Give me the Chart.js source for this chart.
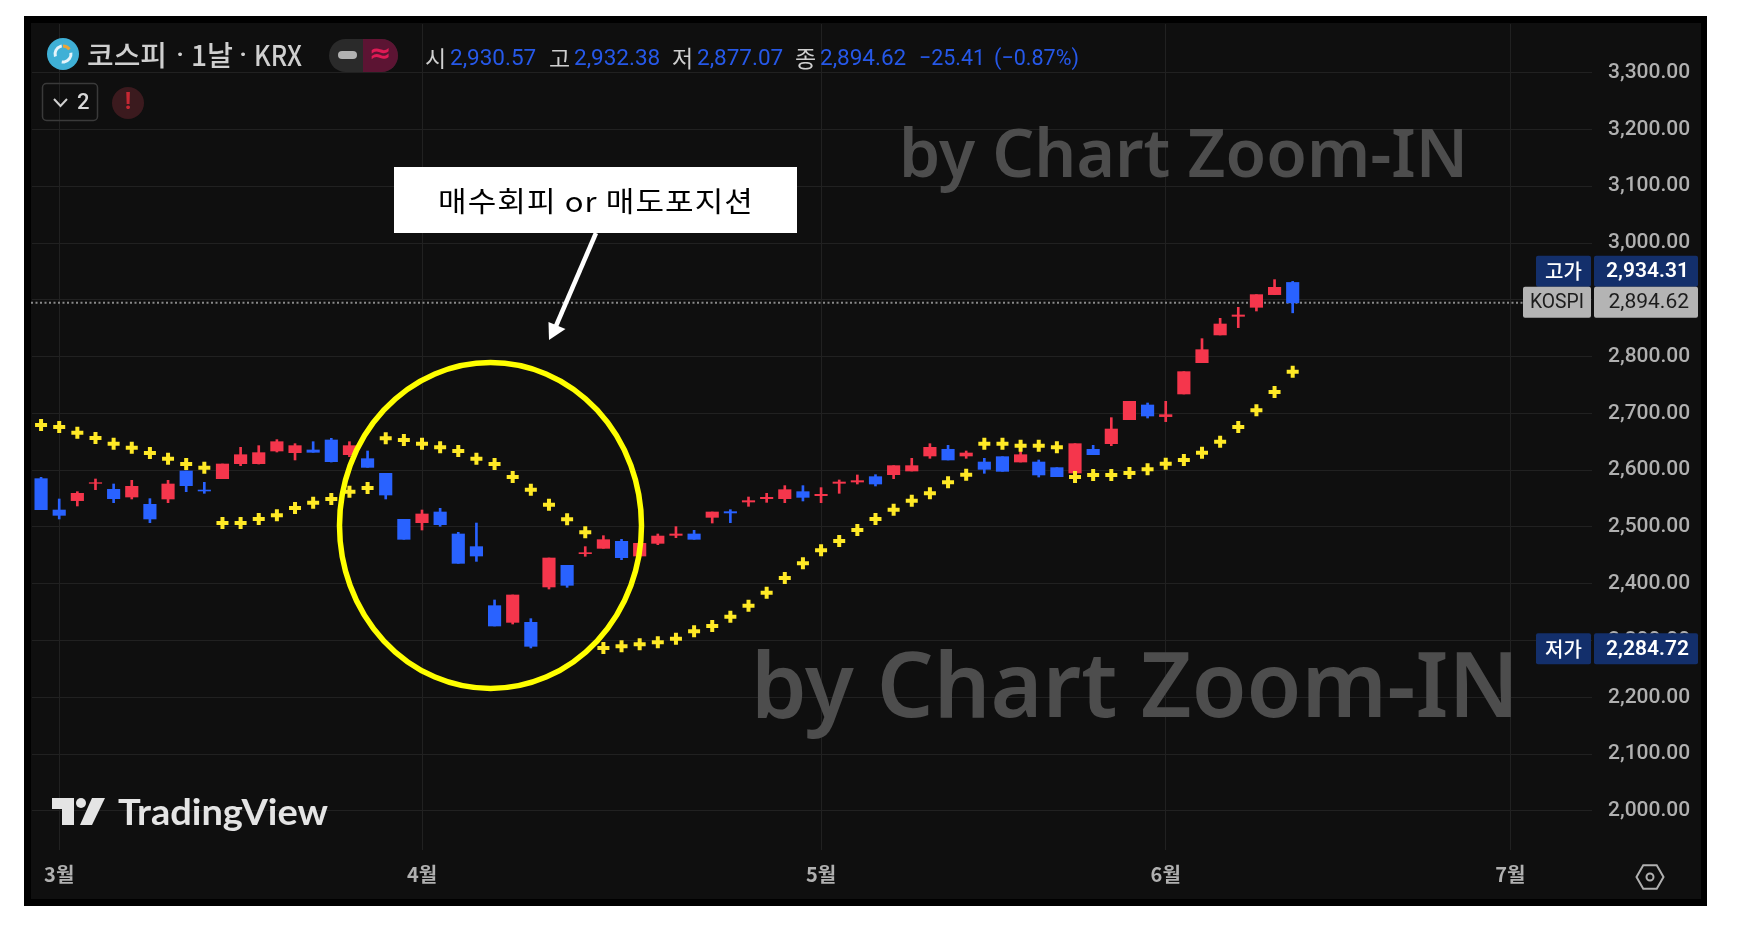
<!DOCTYPE html>
<html lang="ko">
<head>
<meta charset="utf-8">
<title>코스피 1날</title>
<script src="https://cdn.jsdelivr.net/npm/chart.js@4/dist/chart.umd.min.js"></script>
<style>
  html, body { margin: 0; padding: 0; background: #fff; overflow: hidden; }
  canvas { display: block; }
</style>
</head>
<body>
<canvas id="kospi-chart" width="1742" height="937"></canvas>
<script>
// 일봉 값
const opens = [2585.1,2529.9,2546.4,2576.9,2566.3,2552.8,2539.9,2549.3,2598.6,2565.1,
  2585.1,2611.5,2611.5,2633.8,2630.9,2635.6,2653.2,2627.3,2620.3,2594.5,
  2513.5,2507.6,2526.4,2487.7,2465.4,2361.5,2332.1,2332.1,2394.4,2432.5,
  2453,2462.4,2474.8,2448.9,2471.2,2485.3,2487.7,2517,2527,2544,
  2549.9,2549.9,2562.2,2555.2,2576.9,2579.2,2588.6,2592.1,2598.6,2625,
  2636.8,2625,2614.4,2623.8,2614.4,2614.4,2604.5,2595.1,2636.7,2646.7,
  2689,2714.8,2694.3,2734.2,2789.3,2838.1,2870.9,2886.8,2909.1,2930.57];
const highs = [2587.4,2549.3,2562.2,2584.5,2575.7,2582.2,2549.9,2582.2,2598.6,2578.6,
  2610.9,2640.3,2643.2,2653.8,2646.7,2650.2,2656.1,2650.2,2633.8,2594.5,
  2513.5,2529.9,2532.9,2490.6,2507,2371.5,2380.3,2338.6,2445.4,2432.5,
  2465.4,2484.7,2478.3,2471.2,2487.7,2500.6,2494.1,2526.4,2530.5,2552.8,
  2559.3,2572.8,2572.8,2569.3,2582.8,2591.6,2592.1,2608,2620.9,2646.7,
  2643.8,2633.8,2620.9,2623.8,2634.4,2618,2604.5,2646.7,2643.8,2692.5,
  2721.3,2718.3,2721.3,2773.5,2831.6,2867.4,2886.8,2909.1,2935.5,2932.38];
const lows = [2530.5,2514.1,2537,2565.7,2542.8,2549.3,2507.6,2542.8,2562.2,2559.3,
  2585.1,2608,2610.9,2632,2618,2631.5,2614.4,2623.8,2605,2549.3,
  2478.3,2494.7,2501.2,2436,2439.5,2325.7,2329.2,2287,2390.8,2393.8,
  2448.4,2462.4,2442.5,2448.9,2468.9,2481.2,2478.3,2507,2507.6,2536.4,
  2543.4,2542.8,2545.8,2542.8,2559.3,2575.7,2572.2,2585.1,2598.6,2620.9,
  2618,2620.9,2594.5,2598,2614.4,2588,2588.6,2595.1,2627.3,2643.2,
  2689,2691.9,2685.5,2734.2,2789.3,2838.1,2851,2880.3,2909.1,2877.07];
const closes = [2530.5,2520.5,2559.3,2578,2549.9,2571.6,2514.1,2575.7,2572.8,2563.4,
  2610.9,2627.3,2630.9,2650.2,2643.2,2631.5,2615,2643.2,2605,2556.3,
  2478.3,2522.9,2504.1,2436,2448.9,2325.7,2380.3,2289.9,2445.4,2397.3,
  2454.8,2477.7,2446,2471.2,2484.1,2487.7,2478.3,2526.4,2524.7,2546.4,
  2552.2,2565.7,2552.2,2557.5,2579.2,2581.6,2575.7,2608,2608,2640.3,
  2618,2630.3,2601.5,2598,2627.3,2591.6,2588.6,2646.7,2627.3,2672.5,
  2721.3,2695.4,2697.8,2773.5,2812.2,2857.4,2873.3,2909.1,2922,2894.62];
// 파라볼릭 SAR 점
const sar = [2679.6,2676,2666.1,2656.7,2646.7,2639.7,2630.3,2620.3,2610.9,2604.5,
  2507,2507,2514.1,2520.5,2533.4,2542.8,2549.3,2562.2,2568.7,2656.1,
  2653.2,2646.7,2640.3,2633.8,2620.3,2610.9,2588,2565.7,2539.3,2513.5,
  2490.6,2287,2289.9,2293.4,2296.9,2303.4,2316.3,2325.7,2342.1,2361.5,
  2384.4,2410.2,2436,2458.9,2475.4,2494.7,2514.1,2530.5,2546.4,2559.3,
  2578.6,2592.1,2646.7,2646.7,2643.2,2643.2,2640.3,2588,2591.6,2591.6,
  2595.1,2601.5,2611.5,2618,2630.9,2650.2,2676.1,2705.4,2737.7,2773.5];

// x축: 거래일 칸 86개, 그중 월 시작 칸에만 라벨
const monthSlots = [1, 21, 43, 62, 81];
const monthNames = ['3월', '4월', '5월', '6월', '7월'];
const slotCount = 86;
const slots = Array.from({ length: slotCount }, (_, i) => {
  const m = monthSlots.indexOf(i);
  return m >= 0 ? monthNames[m] : '';
});

const lastPrice = 2894.62;
const lowPrice = 2284.72;

const UP = '#f5364c';
const DOWN = '#2962ff';
const GRID = '#212121';
const AXIS_TEXT = '#b0b0b0';
const candleColors = opens.map((o, i) => closes[i] >= o ? UP : DOWN);

function label(c, text, x, y, font, color, align, width) {
  c.font = font;
  c.fillStyle = color;
  c.textAlign = align || 'left';
  c.textBaseline = 'middle';
  if (width) c.fillText(text, x, y, width);
  else c.fillText(text, x, y);
}

function fitText(c, text, x, baseline, font, color, width) {
  c.save();
  c.font = font;
  c.fillStyle = color;
  c.textBaseline = 'alphabetic';
  c.textAlign = 'left';
  const k = width / c.measureText(text).width;
  c.translate(x, baseline);
  c.scale(k, 1);
  c.fillText(text, 0, 0);
  c.restore();
}

function roundBox(c, x, y, w, h, r, color) {
  c.fillStyle = color;
  c.beginPath();
  c.roundRect(x, y, w, h, r);
  c.fill();
}

// 프레임과 배경
const framePlugin = {
  id: 'frame',
  beforeDraw(chart) {
    const c = chart.ctx;
    c.save();
    c.fillStyle = '#fff';
    c.fillRect(0, 0, 1742, 937);
    c.fillStyle = '#000';
    c.fillRect(24, 16, 1683, 890);
    c.fillStyle = '#0f0f0f';
    c.fillRect(31, 23, 1670, 876);
    c.restore();
  },
};

// 격자 위, 봉 아래: 워터마크와 현재가 점선
const underlayPlugin = {
  id: 'underlay',
  beforeDatasetsDraw(chart) {
    const c = chart.ctx;
    const y = chart.scales.y.getPixelForValue(lastPrice);
    c.save();
    const wm = 'by Chart Zoom-IN';
    fitText(c, wm, 899, 177, '650 66px "Noto Sans"', '#4d4d4d', 569);
    fitText(c, wm, 751, 717, '650 90px "Noto Sans"', '#4d4d4d', 768);
    c.strokeStyle = '#8a8a8a';
    c.lineWidth = 2;
    c.setLineDash([2, 2.5]);
    c.beginPath();
    c.moveTo(31, y);
    c.lineTo(1523, y);
    c.stroke();
    c.restore();
  },
};

// 헤더, 가격 라벨, 로고, 말풍선, 화살표, 원
const overlayPlugin = {
  id: 'overlay',
  afterDatasetsDraw(chart) {
    const c = chart.ctx;
    const yScale = chart.scales.y;
    c.save();

    // 심볼 아이콘
    c.fillStyle = '#3fb0d6';
    c.beginPath();
    c.arc(63, 54, 16, 0, Math.PI * 2);
    c.fill();
    c.strokeStyle = '#e6f4fa';
    c.lineWidth = 3;
    c.beginPath();
    c.arc(63, 54, 8, Math.PI * 0.9, Math.PI * 1.45);
    c.stroke();
    c.beginPath();
    c.arc(63, 54, 8, Math.PI * 1.95, Math.PI * 0.55);
    c.stroke();
    c.strokeStyle = '#e9a53a';
    c.beginPath();
    c.arc(63, 54, 8, Math.PI * 1.5, Math.PI * 1.8);
    c.stroke();

    // 종목명
    const titleFont = '500 28px "Noto Sans CJK KR"';
    fitText(c, '코스피', 87, 66, titleFont, '#cfcfcf', 80);
    label(c, '·', 180, 56, 'bold 24px Roboto', '#cfcfcf', 'center');
    fitText(c, '1날', 191, 66, titleFont, '#cfcfcf', 42);
    label(c, '·', 243, 56, 'bold 24px Roboto', '#cfcfcf', 'center');
    fitText(c, 'KRX', 254, 66, titleFont, '#cfcfcf', 48);

    // 상태 알약
    roundBox(c, 329, 39, 69, 33, 16.5, '#2a2a2a');
    c.fillStyle = '#5c1433';
    c.beginPath();
    c.roundRect(363, 39, 35, 33, [0, 16.5, 16.5, 0]);
    c.fill();
    roundBox(c, 338, 51, 19, 8, 4, '#b2b2b2');
    label(c, '≈', 380, 55, 'bold 27px "DejaVu Sans"', '#e01a55', 'center');

    // 시고저종
    const black = '#cfcfcf';
    const blue = '#2658e8';
    const head = '400 23px "Noto Sans CJK KR"';
    const nums = '400 22.5px Roboto';
    label(c, '시', 425, 58, head, black);
    label(c, '2,930.57', 450, 59, nums, blue, 'left', 88);
    label(c, '고', 549, 58, head, black);
    label(c, '2,932.38', 574, 59, nums, blue, 'left', 88);
    label(c, '저', 672, 58, head, black);
    label(c, '2,877.07', 697, 59, nums, blue, 'left', 88);
    label(c, '종', 795, 58, head, black);
    label(c, '2,894.62', 820, 59, nums, blue, 'left', 88);
    label(c, '−25.41', 919, 59, nums, blue, 'left', 66);
    label(c, '(−0.87%)', 994, 59, nums, blue, 'left', 85);

    // 지표 접기 버튼
    c.strokeStyle = '#3a3a3a';
    c.lineWidth = 1.5;
    c.beginPath();
    c.roundRect(42.5, 83.5, 55, 37, 4);
    c.stroke();
    c.strokeStyle = '#d0d0d0';
    c.lineWidth = 2;
    c.beginPath();
    c.moveTo(54, 99);
    c.lineTo(60.5, 106);
    c.lineTo(67, 99);
    c.stroke();
    label(c, '2', 77, 103, '500 22px Roboto', '#d8d8d8');
    c.fillStyle = '#3b1a1e';
    c.beginPath();
    c.arc(128, 103, 16, 0, Math.PI * 2);
    c.fill();
    label(c, '!', 128, 103, 'bold 24px Roboto', '#c62833', 'center');

    // 오른쪽 가격 라벨
    const lastY = yScale.getPixelForValue(lastPrice);
    const lowY = yScale.getPixelForValue(lowPrice);
    const navy = '#132f6b';
    const grey = '#b4b4b4';
    const tagFont = '500 20px "Noto Sans CJK KR"';
    const valFont = '600 21px Roboto';
    roundBox(c, 1536, lastY - 47, 55, 31, 2, navy);
    roundBox(c, 1594, lastY - 47, 104, 31, 2, navy);
    label(c, '고가', 1563.5, lastY - 31, tagFont, '#fff', 'center');
    label(c, '2,934.31', 1689, lastY - 31, valFont, '#fff', 'right');
    roundBox(c, 1523, lastY - 16, 68, 31, 2, grey);
    roundBox(c, 1594, lastY - 16, 104, 31, 2, grey);
    label(c, 'KOSPI', 1557, lastY, '400 21px Roboto', '#1c1c1c', 'center', 54);
    label(c, '2,894.62', 1689, lastY, '400 21px Roboto', '#1c1c1c', 'right');
    roundBox(c, 1536, lowY - 16, 55, 31, 2, navy);
    roundBox(c, 1594, lowY - 16, 104, 31, 2, navy);
    label(c, '저가', 1563.5, lowY, tagFont, '#fff', 'center');
    label(c, '2,284.72', 1689, lowY, valFont, '#fff', 'right');

    // 설정 아이콘
    c.strokeStyle = AXIS_TEXT;
    c.lineWidth = 2;
    c.beginPath();
    for (let i = 0; i < 6; i++) {
      const a = Math.PI / 3 * i;
      const px = 1650 + 13.5 * Math.cos(a);
      const py = 877 + 13.5 * Math.sin(a);
      if (i === 0) c.moveTo(px, py); else c.lineTo(px, py);
    }
    c.closePath();
    c.stroke();
    c.beginPath();
    c.arc(1650, 877, 3.5, 0, Math.PI * 2);
    c.stroke();

    // TradingView 로고
    c.fillStyle = '#e4e4e4';
    c.beginPath();
    c.moveTo(52, 798); c.lineTo(74, 798); c.lineTo(74, 825); c.lineTo(62, 825);
    c.lineTo(62, 809); c.lineTo(52, 809);
    c.closePath();
    c.fill();
    c.beginPath();
    c.arc(81, 803, 5, 0, Math.PI * 2);
    c.fill();
    c.beginPath();
    c.moveTo(92, 798); c.lineTo(105, 798); c.lineTo(92, 825); c.lineTo(80, 825);
    c.closePath();
    c.fill();
    fitText(c, 'TradingView', 118, 825, '700 36px Lato', '#e4e4e4', 210);

    // 원
    c.strokeStyle = '#ffff00';
    c.lineWidth = 5.5;
    c.beginPath();
    c.ellipse(490.5, 525.5, 151, 163, 0, 0, Math.PI * 2);
    c.stroke();

    // 말풍선
    c.fillStyle = '#fff';
    c.fillRect(394, 167, 403, 66);
    c.letterSpacing = '1px';
    fitText(c, '매수회피 or 매도포지션', 438, 212, '400 28px "Noto Sans CJK KR"', '#000', 316);
    c.letterSpacing = '0px';

    // 화살표
    c.strokeStyle = '#fff';
    c.lineWidth = 4.5;
    c.beginPath();
    c.moveTo(596, 233);
    c.lineTo(556, 326);
    c.stroke();
    c.fillStyle = '#fff';
    c.beginPath();
    c.moveTo(549, 340);
    c.lineTo(548.5, 322);
    c.lineTo(565.5, 329);
    c.closePath();
    c.fill();

    c.restore();
  },
};

new Chart(document.getElementById('kospi-chart').getContext('2d'), {
  type: 'bar',
  data: {
    labels: slots,
    datasets: [
      {
        type: 'line',
        label: 'SAR',
        data: sar,
        showLine: false,
        pointStyle: 'cross',
        pointRadius: 6,
        pointBorderWidth: 4,
        pointBorderColor: '#ffe926',
        order: 1,
      },
      {
        label: '몸통',
        data: opens.map((o, i) => [o, closes[i]]),
        backgroundColor: candleColors,
        barThickness: 12.5,
        grouped: false,
        order: 2,
      },
      {
        label: '꼬리',
        data: lows.map((l, i) => [l, highs[i]]),
        backgroundColor: candleColors,
        barThickness: 2,
        grouped: false,
        order: 3,
      },
    ],
  },
  options: {
    responsive: false,
    animation: false,
    layout: { padding: { left: 32, top: 24, right: 41, bottom: 38 } },
    plugins: { legend: { display: false }, tooltip: { enabled: false } },
    scales: {
      x: {
        offset: true,
        afterFit(s) { s.height = 49; },
        border: { display: false },
        grid: {
          offset: false,
          drawTicks: false,
          color: ctx => monthSlots.includes(ctx.index) ? GRID : 'transparent',
        },
        ticks: {
          autoSkip: false,
          maxRotation: 0,
          padding: 12,
          color: AXIS_TEXT,
          font: { family: '"Noto Sans CJK KR"', size: 20, weight: '700' },
        },
      },
      y: {
        position: 'right',
        min: 1931.3,
        max: 3385.6,
        afterFit(s) { s.width = 109; },
        border: { display: false },
        // 라벨 간격은 padding 대신 투명 눈금 길이로 (padding은 차트 위쪽 여백을 늘림)
        grid: { color: GRID, drawTicks: true, tickLength: 16, tickColor: 'transparent' },
        ticks: {
          stepSize: 100,
          includeBounds: false,
          padding: 0,
          color: AXIS_TEXT,
          font: { family: 'Roboto', size: 21, weight: '500' },
          callback: v => v.toLocaleString('en-US', { minimumFractionDigits: 2, maximumFractionDigits: 2 }),
        },
      },
    },
  },
  plugins: [framePlugin, underlayPlugin, overlayPlugin],
});
</script>
</body>
</html>
